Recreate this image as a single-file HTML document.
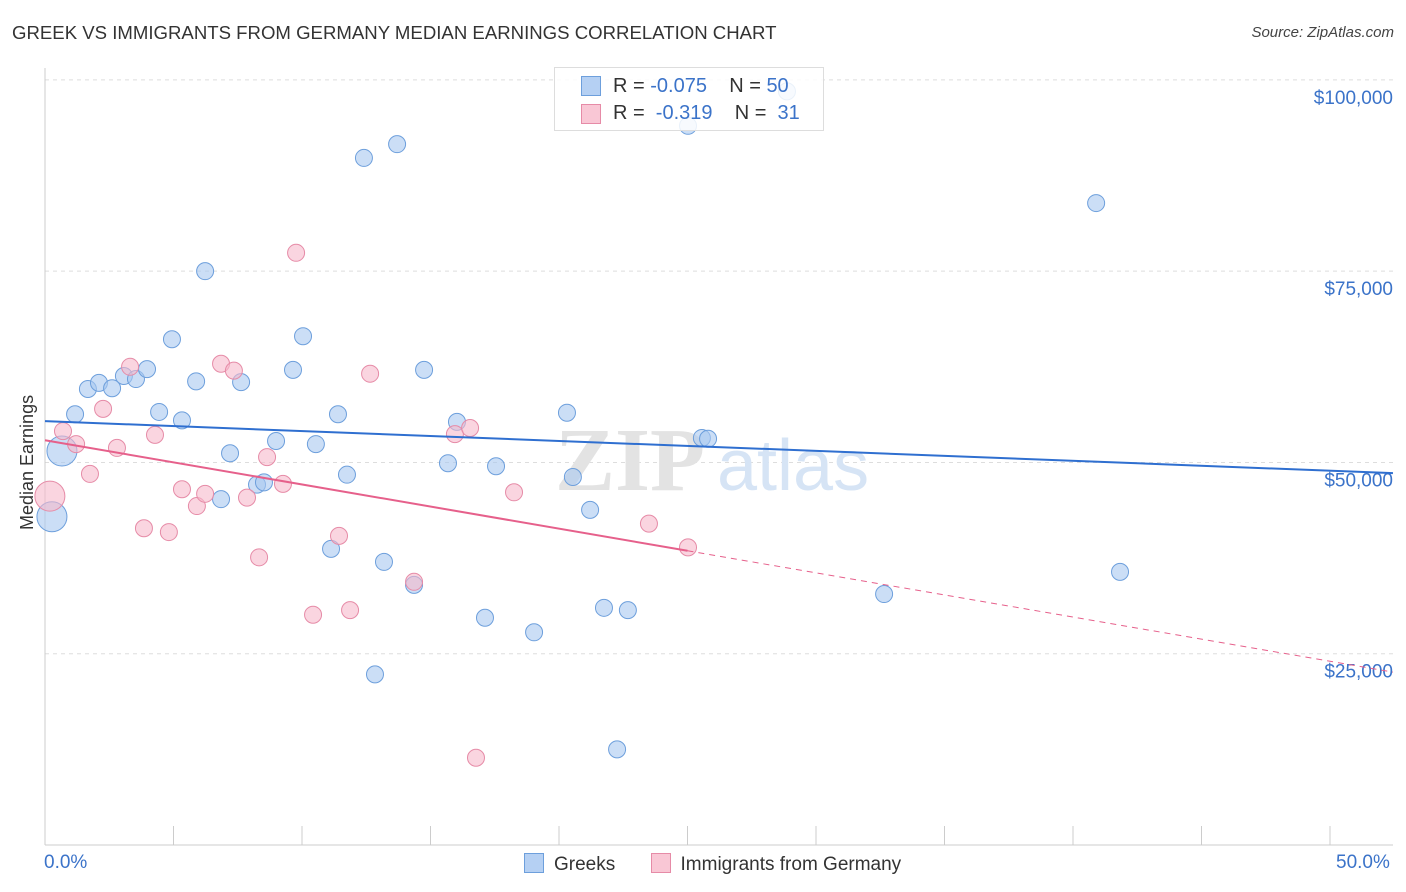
<!DOCTYPE html>
<html><head><meta charset="utf-8"><style>
body{margin:0;background:#fff;font-family:"Liberation Sans",sans-serif;}
#wrap{position:relative;width:1406px;height:892px;overflow:hidden;}
.t{position:absolute;white-space:nowrap;}
</style></head><body>
<div id="wrap">
<div class="t" style="left:12px;top:22px;font-size:18.6px;color:#333;">GREEK VS IMMIGRANTS FROM GERMANY MEDIAN EARNINGS CORRELATION CHART</div>
<div class="t" style="right:12px;top:24px;font-size:15px;color:#444;font-style:italic;">Source: ZipAtlas.com</div>
<svg id="svg" width="1406" height="892" style="position:absolute;left:0;top:0;"></svg>
</div>
<script>
const yTicks=[25000,50000,75000,100000];
const yTickLabels=["$25,000","$50,000","$75,000","$100,000"];
const greekX=[0.66,0.27,1.17,1.67,2.10,2.61,3.07,3.54,3.97,4.44,4.94,5.33,5.88,6.23,6.85,7.20,7.63,8.25,8.52,8.99,9.65,10.04,10.54,11.13,11.40,11.75,12.41,12.84,13.19,13.70,14.36,14.75,15.68,16.03,17.12,17.55,19.03,20.31,20.54,21.21,21.75,22.26,22.68,25.02,25.56,25.80,32.65,40.90,41.83,28.87];
const greekY=[51500,42900,56300,59600,60400,59700,61300,60900,62200,56600,66100,55500,60600,75000,45200,51200,60500,47100,47400,52800,62100,66500,52400,38700,56300,48400,89800,22300,37000,91600,34000,62100,49900,55300,29700,49500,27800,56500,48100,43800,31000,12500,30700,94000,53200,53100,32800,83900,35700,98500];
const greekBig=[0,1];
const germX=[0.19,0.70,1.21,1.75,2.26,2.80,3.31,3.85,4.28,4.82,5.33,5.91,6.23,6.85,7.35,7.86,8.33,8.64,9.26,9.77,10.43,11.44,11.87,12.65,14.36,15.95,16.54,16.77,18.25,23.50,25.02];
const germY=[45600,54100,52400,48500,57000,51900,62500,41400,53600,40900,46500,44300,45900,62900,62000,45400,37600,50700,47200,77400,30100,40400,30700,61600,34400,53700,54500,11400,46100,42000,38900];
const germBig=[0];
const greekTrend=[55400,48600]; // at x=0 and x=52.45
const germTrend=[52900,22600];
const NS="http://www.w3.org/2000/svg";
const svg=document.getElementById('svg');
const X=v=>45+v*25.7, Y=v=>845-v/130.7;
function mk(tag,at,name){const e=document.createElementNS(NS,tag);for(const k in at)e.setAttribute(k,at[k]);


svg.appendChild(e);return e;}
yTicks.forEach((t,i)=>{mk('line',{x1:45,x2:1393,y1:Y(t),y2:Y(t),stroke:'#ddd','stroke-dasharray':'4,4'},'gridline');
const tx=mk('text',{x:1393,y:Y(t)+24,'text-anchor':'end','font-size':19,fill:'#3b73c9','font-family':'Liberation Sans'},'y-tick-label');tx.textContent=yTickLabels[i];});
mk('line',{x1:45,x2:45,y1:68,y2:845,stroke:'#ccc'},'y-axis');
mk('line',{x1:45,x2:1393,y1:845,y2:845,stroke:'#ccc'},'x-axis');
for(let i=0;i<=10;i++)mk('line',{x1:X(i*5),x2:X(i*5),y1:826,y2:845,stroke:'#ccc'},'x-tick');
const wm=mk('text',{x:555,y:490,'font-size':90,fill:'#e3e3e3','font-family':'Liberation Serif','font-weight':'bold'},'watermark');wm.textContent='ZIP';
const wm2=mk('text',{x:717,y:490,'font-size':72,fill:'#d6e4f5','font-family':'Liberation Sans'},'watermark-atlas');wm2.textContent='atlas';
function pts(xs,ys,big,fill,stroke,name){xs.forEach((x,i)=>{mk('circle',{cx:X(x),cy:Y(ys[i]),r:big.includes(i)?15:8.5,fill:fill,'fill-opacity':0.6,stroke:stroke,'stroke-width':1},name);});}
pts(greekX,greekY,greekBig,'#a9c8f0','#6d9fdc','greek-point');
pts(germX,germY,germBig,'#f7b9cb','#e68ba7','germany-point');
mk('line',{x1:X(0),y1:Y(greekTrend[0]),x2:X(52.45),y2:Y(greekTrend[1]),stroke:'#2f6fd0','stroke-width':2},'greek-trendline');
const gy=x=>germTrend[0]+(germTrend[1]-germTrend[0])*x/52.45;
mk('line',{x1:X(0),y1:Y(gy(0)),x2:X(25),y2:Y(gy(25)),stroke:'#e6608b','stroke-width':2},'germany-trendline');
mk('line',{x1:X(25),y1:Y(gy(25)),x2:X(52.45),y2:Y(gy(52.45)),stroke:'#e6608b','stroke-width':1,'stroke-dasharray':'6,5'},'germany-trendline-extension');
</script>
<div class="t" style="left:554px;top:67px;width:268px;height:62px;border:1px solid #ddd;background:rgba(255,255,255,0.85);">
<div style="position:absolute;left:26px;top:8px;width:18px;height:18px;background:#b5d0f3;border:1px solid #6d9fdc;"></div>
<div style="position:absolute;left:26px;top:36px;width:18px;height:18px;background:#f9c7d5;border:1px solid #e68ba7;"></div>
<div class="t" style="left:58px;top:7px;font-size:20px;color:#333;">R = <span style="color:#3b73c9">-0.075</span>&nbsp;&nbsp;&nbsp;&nbsp;N = <span style="color:#3b73c9">50</span></div>
<div class="t" style="left:58px;top:34px;font-size:20px;color:#333;">R = &nbsp;<span style="color:#3b73c9">-0.319</span>&nbsp;&nbsp;&nbsp;&nbsp;N = &nbsp;<span style="color:#3b73c9">31</span></div>
</div>
<div class="t" style="left:44px;top:852px;font-size:19px;color:#3b73c9;">0.0%</div>
<div class="t" style="left:1336px;top:852px;font-size:19px;color:#3b73c9;">50.0%</div>
<div class="t" style="left:17px;top:530px;font-size:18px;color:#333;transform:rotate(-90deg);transform-origin:0 0;">Median Earnings</div>
<div class="t" style="left:524px;top:853px;font-size:19px;color:#333;">
<span style="display:inline-block;width:18px;height:18px;background:#b5d0f3;border:1px solid #6d9fdc;vertical-align:-3px;margin-right:10px;"></span>Greeks
<span style="display:inline-block;width:18px;height:18px;background:#f9c7d5;border:1px solid #e68ba7;vertical-align:-3px;margin:0 10px 0 30px;"></span>Immigrants from Germany</div>
</body></html>
